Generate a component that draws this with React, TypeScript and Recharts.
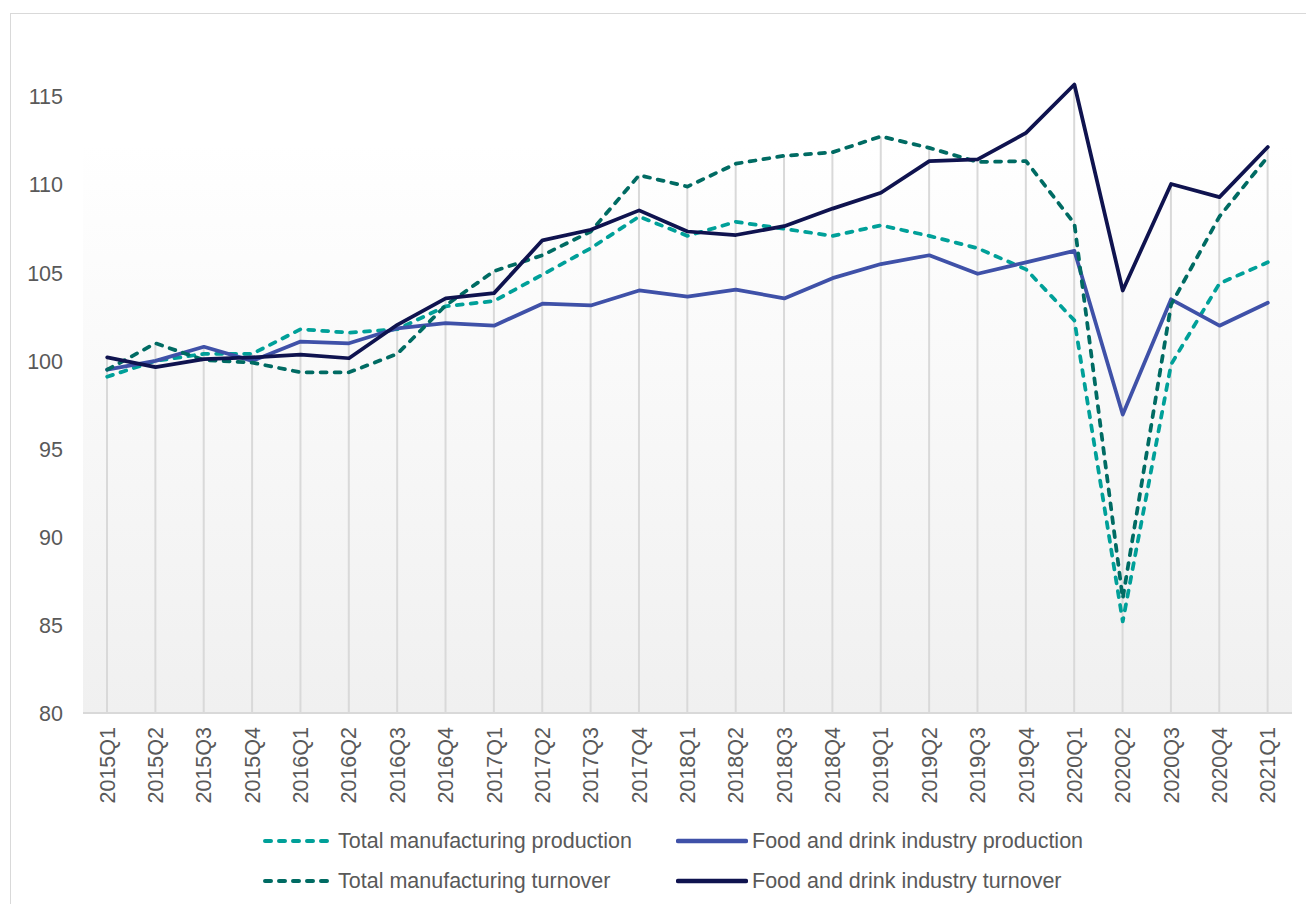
import React from "react";
import { ComposedChart, Line, Bar, XAxis, YAxis, CartesianGrid, Legend } from "recharts";

const quarters = [
  "2015Q1", "2015Q2", "2015Q3", "2015Q4",
  "2016Q1", "2016Q2", "2016Q3", "2016Q4",
  "2017Q1", "2017Q2", "2017Q3", "2017Q4",
  "2018Q1", "2018Q2", "2018Q3", "2018Q4",
  "2019Q1", "2019Q2", "2019Q3", "2019Q4",
  "2020Q1", "2020Q2", "2020Q3", "2020Q4",
  "2021Q1",
];

const totalMfgProduction = [
  99.1, 100.0, 100.4, 100.4, 101.8, 101.6, 101.8, 103.1, 103.4, 104.9, 106.4, 108.2,
  107.1, 107.9, 107.5, 107.1, 107.7, 107.1, 106.4, 105.2, 102.3, 85.2, 99.8, 104.4, 105.6,
];
const foodDrinkProduction = [
  99.5, 100.0, 100.8, 100.0, 101.1, 101.0, 101.85, 102.15, 102.0, 103.25, 103.15, 104.0,
  103.65, 104.05, 103.55, 104.7, 105.5, 106.0, 104.95, 105.6, 106.25, 96.95, 103.5, 102.0, 103.3,
];
const totalMfgTurnover = [
  99.5, 101.0, 100.05, 99.9, 99.35, 99.35, 100.4, 103.15, 105.1, 106.0, 107.35, 110.55,
  109.9, 111.2, 111.65, 111.85, 112.75, 112.1, 111.3, 111.35, 107.8, 86.5, 103.2, 108.2, 111.6,
];
const foodDrinkTurnover = [
  100.2, 99.65, 100.1, 100.2, 100.35, 100.15, 102.05, 103.55, 103.85, 106.85, 107.45, 108.55,
  107.35, 107.15, 107.65, 108.65, 109.55, 111.35, 111.45, 112.95, 115.7, 104.0, 110.05, 109.3, 112.15,
];

const yTicks = [80, 85, 90, 95, 100, 105, 110, 115];

const series = [
  { key: "tmp", name: "Total manufacturing production", color: "#00a099", dashed: true },
  { key: "fdp", name: "Food and drink industry production", color: "#3f51a8", dashed: false },
  { key: "tmt", name: "Total manufacturing turnover", color: "#006b63", dashed: true },
  { key: "fdt", name: "Food and drink industry turnover", color: "#0f134f", dashed: false },
];

const data = quarters.map((q, i) => ({
  quarter: q,
  tmp: totalMfgProduction[i],
  fdp: foodDrinkProduction[i],
  tmt: totalMfgTurnover[i],
  fdt: foodDrinkTurnover[i],
  // excel drop lines: from highest point down to the axis
  drop: Math.max(totalMfgProduction[i], foodDrinkProduction[i], totalMfgTurnover[i], foodDrinkTurnover[i]),
}));

const textColor = "#595959";
const font = "'Liberation Sans', Arial, sans-serif";
const fontSize = 21.5;

function QuarterTick({ x, y, payload }: any) {
  return (
    <text
      x={x}
      y={y}
      transform={`rotate(-90, ${x}, ${y})`}
      textAnchor="end"
      dy="0.35em"
      fontSize={fontSize}
      fill={textColor}
      fontFamily={font}
    >
      {payload.value}
    </text>
  );
}

const legendCols = [262, 676];

function ChartLegend() {
  return (
    <div style={{ position: "relative", width: 1306, height: 84, fontFamily: font }}>
      {series.map((s, i) => (
        <div
          key={s.key}
          style={{
            position: "absolute",
            left: legendCols[i % 2],
            top: 9 + Math.floor(i / 2) * 40,
            height: 24,
            display: "flex",
            alignItems: "center",
            whiteSpace: "nowrap",
          }}
        >
          <svg width={72} height={24}>
            <line
              x1={s.dashed ? 3 : 2}
              y1={12}
              x2={s.dashed ? 67 : 70}
              y2={12}
              stroke={s.color}
              strokeWidth={s.dashed ? 4 : 4.5}
              strokeDasharray={s.dashed ? "6 8" : undefined}
              strokeLinecap="round"
            />
          </svg>
          <span style={{ marginLeft: 4, fontSize, color: textColor, lineHeight: "24px" }}>{s.name}</span>
        </div>
      ))}
    </div>
  );
}

export default function App() {
  return (
    <div style={{ position: "fixed", left: 0, top: 0, width: 1306, height: 904, overflow: "hidden", background: "#fff" }}>
      <div
        style={{
          position: "absolute",
          left: 10,
          top: 13,
          width: 1320,
          height: 920,
          border: "1px solid #d9d9d9",
        }}
      />
      <ComposedChart
        width={1306}
        height={904}
        data={data}
        margin={{ top: 44, right: 14, left: 0, bottom: 91 }}
        style={{ position: "absolute", left: 0, top: 0, fontFamily: font }}
      >
        <defs>
          <linearGradient id="plotBg" x1="0" y1="0" x2="0" y2="1">
            <stop offset="0%" stopColor="#ffffff" />
            <stop offset="15%" stopColor="#ffffff" />
            <stop offset="100%" stopColor="#f0f0f0" />
          </linearGradient>
        </defs>
        <CartesianGrid horizontal={false} vertical={false} fill="url(#plotBg)" />
        <XAxis
          dataKey="quarter"
          interval={0}
          height={100}
          tickLine={false}
          tickMargin={8}
          axisLine={{ stroke: "#d9d9d9", strokeWidth: 2 }}
          tick={<QuarterTick />}
        />
        <YAxis
          type="number"
          domain={[80, 118]}
          ticks={yTicks}
          width={83}
          axisLine={false}
          tickLine={false}
          tickMargin={14}
          tick={{ fontSize, fill: textColor }}
        />
        <Legend
          layout="horizontal"
          align="center"
          verticalAlign="middle"
          wrapperStyle={{ top: 820, left: 0, width: 1306 }}
          content={<ChartLegend />}
        />
        <Bar dataKey="drop" barSize={2} fill="#d9d9d9" isAnimationActive={false} legendType="none" />
        {series.map((s) => (
          <Line
            key={s.key}
            type="linear"
            dataKey={s.key}
            name={s.name}
            stroke={s.color}
            strokeWidth={3.75}
            strokeDasharray={s.dashed ? "6 8" : undefined}
            strokeLinecap="round"
            strokeLinejoin="round"
            dot={false}
            activeDot={false}
            isAnimationActive={false}
          />
        ))}
      </ComposedChart>
    </div>
  );
}
